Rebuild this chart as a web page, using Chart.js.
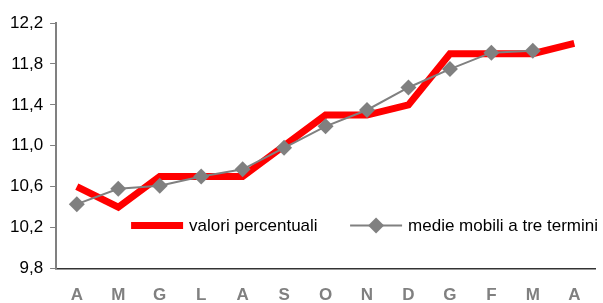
<!DOCTYPE html>
<html>
<head>
<meta charset="utf-8">
<script src="https://cdn.jsdelivr.net/npm/chart.js@4"></script>
<style>
    html, body { margin: 0; padding: 0; background: #fff; overflow: hidden; }
    #wrap { width: 603px; height: 323px; position: relative; }
</style>
</head>
<body>
<div id="wrap"><canvas id="chart"></canvas></div>
<script>
const months = ['A', 'M', 'G', 'L', 'A', 'S', 'O', 'N', 'D', 'G', 'F', 'M', 'A'];
const valoriPercentuali = [10.6, 10.4, 10.7, 10.7, 10.7, 11.0, 11.3, 11.3, 11.4, 11.9, 11.9, 11.9, 12.0];
const medieMobili = [10.43, 10.58, 10.61, 10.70, 10.77, 10.98, 11.19, 11.35, 11.57, 11.75, 11.91, 11.93, null];
const yMin = 9.8, yMax = 12.2, yStep = 0.4;

const FONT = '"Liberation Sans", Arial, sans-serif';

// legend drawn inside the plot, bottom right
const innerLegend = {
    id: 'innerLegend',
    afterDraw(chart) {
        const ctx = chart.ctx;
        const a = chart.chartArea;
        const y = a.bottom - 43;
        ctx.save();
        ctx.font = '17px ' + FONT;
        ctx.fillStyle = '#000';
        ctx.textBaseline = 'middle';

        let x = a.left + 75;
        ctx.strokeStyle = '#ff0000';
        ctx.lineWidth = 7;
        ctx.beginPath(); ctx.moveTo(x, y); ctx.lineTo(x + 52, y); ctx.stroke();
        ctx.fillText('valori percentuali', x + 58, y + 1);

        x = a.left + 294;
        ctx.strokeStyle = '#808080';
        ctx.lineWidth = 2;
        ctx.beginPath(); ctx.moveTo(x, y); ctx.lineTo(x + 52, y); ctx.stroke();
        ctx.fillStyle = '#808080';
        ctx.beginPath();
        ctx.moveTo(x + 26, y - 8); ctx.lineTo(x + 34, y); ctx.lineTo(x + 26, y + 8); ctx.lineTo(x + 18, y);
        ctx.closePath(); ctx.fill();
        ctx.fillStyle = '#000';
        ctx.fillText('medie mobili a tre termini', x + 58, y + 1);
        ctx.restore();
    }
};

new Chart(document.getElementById('chart'), {
    type: 'line',
    data: {
        labels: months,
        datasets: [
            {
                label: 'valori percentuali',
                data: valoriPercentuali,
                borderColor: '#ff0000',
                backgroundColor: '#ff0000',
                borderWidth: 7,
                borderJoinStyle: 'miter',
                pointRadius: 0,
                tension: 0,
                order: 2
            },
            {
                label: 'medie mobili a tre termini',
                data: medieMobili,
                borderColor: '#808080',
                backgroundColor: '#808080',
                borderWidth: 2,
                pointStyle: 'rectRot',
                pointRadius: 8,
                pointBorderWidth: 0,
                tension: 0,
                spanGaps: false,
                order: 1
            }
        ]
    },
    options: {
        responsive: true,
        maintainAspectRatio: false,
        animation: false,
        layout: { padding: { top: 23, right: 0, left: 3, bottom: 0 } },
        plugins: {
            legend: { display: false },
            tooltip: { enabled: false }
        },
        scales: {
            x: {
                offset: true,
                grid: { display: false, drawTicks: false },
                border: { color: '#333', width: 1.5 },
                ticks: {
                    color: '#808080',
                    padding: 17,
                    font: { family: FONT, size: 17, weight: 'bold' }
                }
            },
            y: {
                min: yMin,
                max: yMax,
                grid: { drawOnChartArea: false, drawTicks: true, tickLength: 6, color: '#808080' },
                border: { color: '#808080', width: 2 },
                ticks: {
                    stepSize: yStep,
                    color: '#000',
                    padding: 7,
                    font: { family: FONT, size: 17 },
                    callback: v => v.toFixed(1).replace('.', ',')
                }
            }
        }
    },
    plugins: [innerLegend]
});
</script>
</body>
</html>
